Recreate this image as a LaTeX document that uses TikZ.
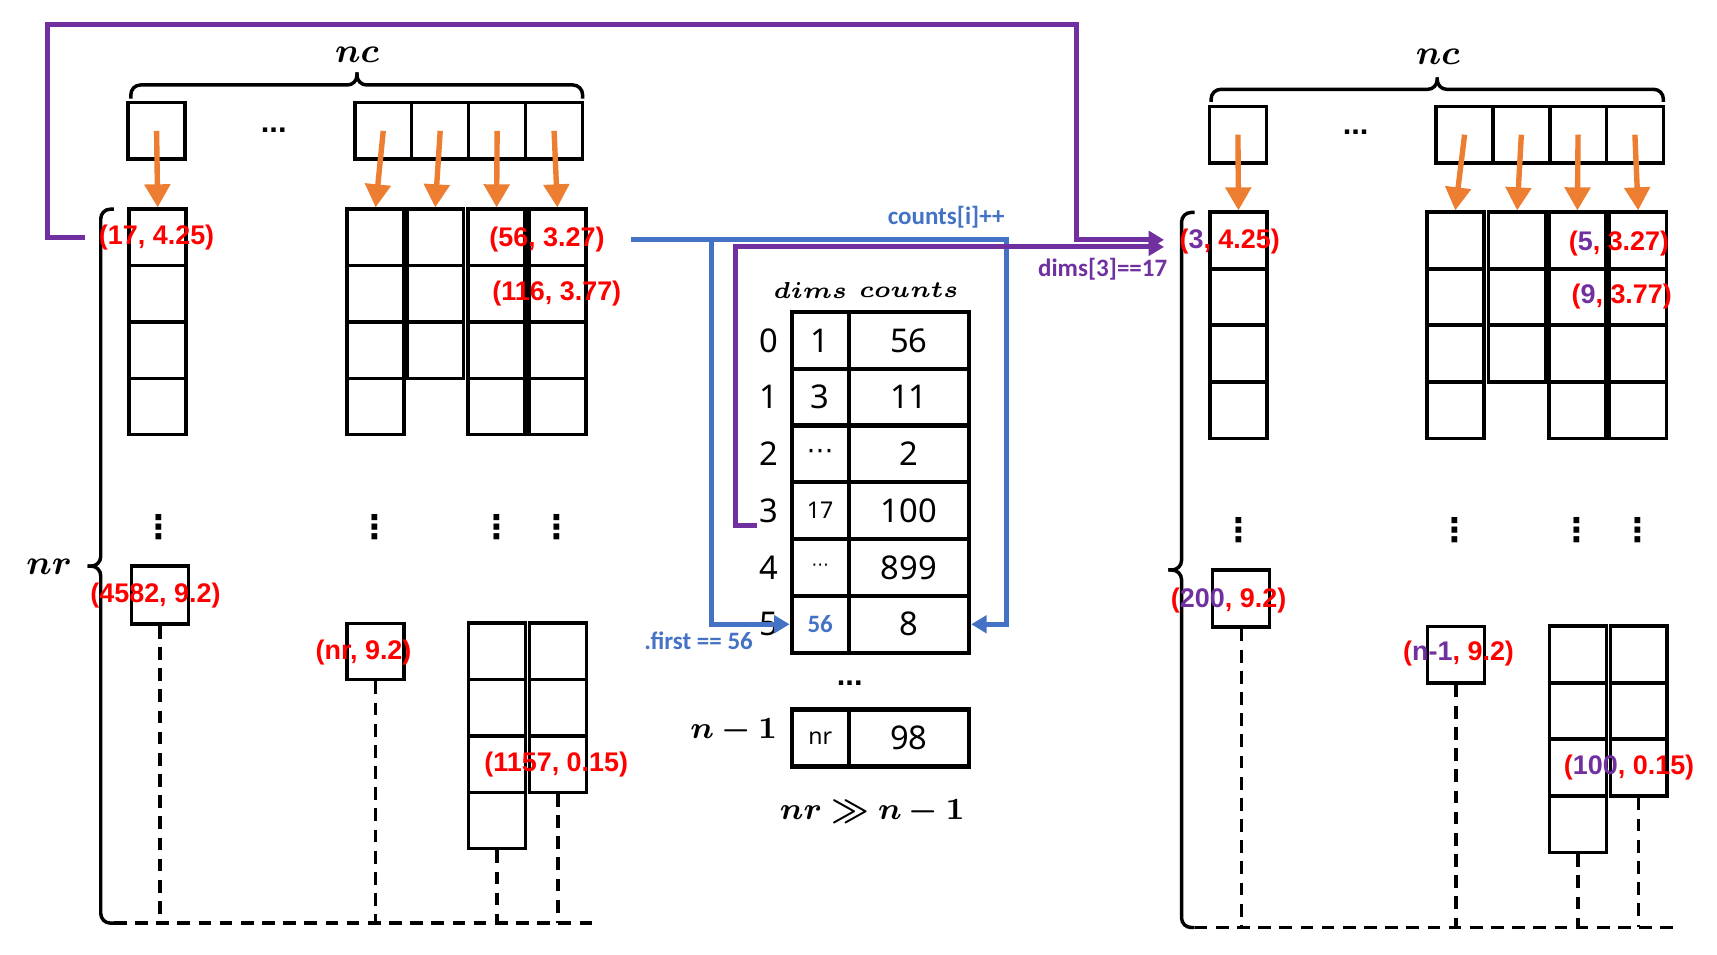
\documentclass[tikz,border=0pt]{standalone}
\usepackage{fontspec}
\usepackage{bm}
\setmainfont{Liberation Sans}
\newfontfamily\numfont{Noto Sans}
\newfontfamily\notefont{Carlito}
\newfontfamily\dotfont{DejaVu Sans}
\usetikzlibrary{arrows.meta}
\definecolor{labred}{HTML}{FF0000}
\definecolor{labpurple}{HTML}{7030A0}
\definecolor{labblue}{HTML}{4472C4}
\definecolor{arrorange}{HTML}{ED7D31}

\begin{document}
\begin{tikzpicture}[x=1cm,y=-1cm]
\tikzset{
  cellbox/.style={draw, line width=0.9pt, minimum width=0.52cm, minimum height=0.515cm, inner sep=0pt},
  tabcell/.style={draw, line width=1.1pt, minimum width=0.52cm, minimum height=0.518cm, inner sep=0pt, font=\numfont\fontsize{8.5}{10}\selectfont},
  cntcell/.style={tabcell, minimum width=1.10cm},
  idxlbl/.style={inner sep=0.5pt, font=\numfont\fontsize{8.5}{10}\selectfont},
  coordlbl/.style={inner sep=1pt, text=labred, font=\bfseries\fontsize{7}{8}\selectfont},
  notelbl/.style={inner sep=1pt, font=\notefont\bfseries\fontsize{6.5}{8}\selectfont},
  mathlbl/.style={inner sep=1pt, font=\fontsize{9}{11}\selectfont},
  dotlbl/.style={inner sep=0pt, font=\dotfont\bfseries\fontsize{8.5}{10}\selectfont},
  orangearrow/.style={draw=arrorange, line width=1.4pt, -{Triangle[length=6pt,width=6.5pt]}},
  purplepath/.style={draw=labpurple, line width=1.3pt, -{Triangle[length=4pt,width=4.5pt]}},
  bluepath/.style={draw=labblue, line width=1.3pt, -{Triangle[length=4pt,width=4.5pt]}},
  dashdrop/.style={line width=0.9pt, dash pattern=on 3.3pt off 2.2pt},
  bracketline/.style={line width=0.9pt, rounded corners=2.5pt}
}
\useasboundingbox (0,0) rectangle (15.68,8.72);

% left matrix
\node[cellbox] (ltop0) at (1.43,1.195) {};
\foreach \k/\x in {1/3.50,2/4.02,3/4.54,4/5.06}
  \node[cellbox] (ltop\k) at (\x,1.195) {};
\node[font=\bfseries\fontsize{8}{9}\selectfont] (ldots) at (2.50,1.19) {...};
\node[mathlbl] (lnc) at (3.26,0.50) {$\bm{nc}$};
\draw[bracketline] (1.195,0.90) |- (3.26,0.776) -- (3.26,0.66);
\draw[bracketline] (3.26,0.66) -- (3.26,0.776) -| (5.32,0.90);

\foreach \col/\x in {a/1.44,b/3.43,d/4.535,e/5.09}
  \foreach \i in {1,...,4}
    \node[cellbox] (l\col\i) at (\x,{1.6525+0.515*\i}) {};
\foreach \i in {1,2,3}
  \node[cellbox] (lc\i) at (3.975,{1.6525+0.515*\i}) {};

\draw[orangearrow] (ltop0.center) -- (la1.north);
\foreach \k/\col in {1/b,2/c,3/d,4/e}
  \draw[orangearrow] (ltop\k.center) -- (l\col1.north);

\foreach \col/\x in {a/1.45,b/3.425,d/4.54,e/5.086}
  \node[dotlbl] (ldot\col) at (\x,4.81) {⋮};

\node[cellbox, minimum height=0.53cm] (lx) at (1.46,5.435) {};
\node[cellbox] (ly) at (3.43,5.95) {};
\foreach \i in {1,...,4}
  \node[cellbox] (lf\i) at (4.54,{5.4325+0.515*\i}) {};
\foreach \i in {1,2,3}
  \node[cellbox] (lg\i) at (5.095,{5.4325+0.515*\i}) {};

\draw[bracketline] (1.04,1.91) -| (0.92,5.17) -- (0.80,5.17);
\draw[bracketline] (0.80,5.17) -- (0.92,5.17) |- (1.04,8.43);
\node[mathlbl] (lnr) at (0.45,5.18) {$\bm{nr}$};
\coordinate (lbase) at (1.04,8.43);
\coordinate (lend) at (5.43,8.43);
\draw[dashdrop] (lbase) -- (lend);
\foreach \n in {lx,ly,lf4,lg3}
  \draw[dashdrop] (\n.south) -- (\n.south |- lbase);

\node[coordlbl] (l17) at (1.43,2.165) {(17, 4.25)};
\node[coordlbl] (l56) at (4.995,2.19) {(56, 3.27)};
\node[coordlbl] (l116) at (5.085,2.68) {(116, 3.77)};
\node[coordlbl] (l4582) at (1.42,5.44) {(4582, 9.2)};
\node[coordlbl] (lnrlbl) at (3.32,5.955) {(nr, 9.2)};
\node[coordlbl] (l1157) at (5.08,6.985) {(1157, 0.15)};

% right matrix
\node[cellbox] (rtop0) at (11.305,1.23) {};
\foreach \k/\x in {1/13.375,2/13.893,3/14.411,4/14.93}
  \node[cellbox] (rtop\k) at (\x,1.23) {};
\node[font=\bfseries\fontsize{8}{9}\selectfont] (rdots) at (12.38,1.21) {...};
\node[mathlbl] (rnc) at (13.13,0.52) {$\bm{nc}$};
\draw[bracketline] (11.06,0.93) |- (13.125,0.816) -- (13.125,0.706);
\draw[bracketline] (13.125,0.706) -- (13.125,0.816) -| (15.19,0.93);

\foreach \col/\x in {a/11.31,b/13.29,d/14.405,e/14.96}
  \foreach \i in {1,...,4}
    \node[cellbox] (r\col\i) at (\x,{1.6775+0.5175*\i}) {};
\foreach \i in {1,2,3}
  \node[cellbox] (rc\i) at (13.855,{1.6775+0.5175*\i}) {};

\draw[orangearrow] (rtop0.center) -- (ra1.north);
\foreach \k/\col in {1/b,2/c,3/d,4/e}
  \draw[orangearrow] (rtop\k.center) -- (r\col1.north);

\foreach \col/\x in {a/11.31,b/13.29,d/14.40,e/14.96}
  \node[dotlbl] (rdot\col) at (\x,4.84) {⋮};

\node[cellbox, minimum height=0.52cm] (rx) at (11.335,5.465) {};
\node[cellbox] (ry) at (13.295,5.98) {};
\foreach \i in {1,...,4}
  \node[cellbox] (rf\i) at (14.41,{5.4582+0.5175*\i}) {};
\foreach \i in {1,2,3}
  \node[cellbox] (rg\i) at (14.965,{5.4582+0.5175*\i}) {};

\draw[bracketline] (10.91,1.94) -| (10.79,5.205) -- (10.67,5.205);
\draw[bracketline] (10.67,5.205) -- (10.79,5.205) |- (10.91,8.47);
\coordinate (rbase) at (10.91,8.47);
\coordinate (rend) at (15.29,8.47);
\draw[dashdrop] (rbase) -- (rend);
\foreach \n in {rx,ry,rf4,rg3}
  \draw[dashdrop] (\n.south) -- (\n.south |- rbase);

\node[coordlbl] (r3) at (11.23,2.21) {({\color{labpurple}3}, 4.25)};
\node[coordlbl] (r5) at (14.785,2.22) {({\color{labpurple}5}, 3.27)};
\node[coordlbl] (r9) at (14.81,2.71) {({\color{labpurple}9}, 3.77)};
\node[coordlbl] (r200) at (11.22,5.48) {({\color{labpurple}200}, 9.2)};
\node[coordlbl] (rn1) at (13.32,5.966) {({\color{labpurple}n-1}, 9.2)};
\node[coordlbl] (r100) at (14.877,7.01) {({\color{labpurple}100}, 0.15)};

% dims / counts table
\node[font=\fontsize{6}{7}\selectfont] (hdims) at (7.40,2.65) {$\bm{dims}$};
\node[font=\fontsize{6}{7}\selectfont] (hcounts) at (8.30,2.65) {$\bm{counts}$};

\node[idxlbl] (i0) at (7.02,3.109) {0};
\node[tabcell] (d0) at (7.49,3.109) {1};
\node[cntcell] (c0) at (8.30,3.109) {56};
\node[idxlbl] (i1) at (7.02,3.627) {1};
\node[tabcell] (d1) at (7.49,3.627) {3};
\node[cntcell] (c1) at (8.30,3.627) {11};
\node[idxlbl] (i2) at (7.02,4.146) {2};
\node[tabcell] (d2) at (7.49,4.146) {\dotfont\fontsize{7}{8}\selectfont ⋯};
\node[cntcell] (c2) at (8.30,4.146) {2};
\node[idxlbl] (i3) at (7.02,4.664) {3};
\node[tabcell] (d3) at (7.49,4.664) {\fontsize{6}{7}\selectfont 17};
\node[cntcell] (c3) at (8.30,4.664) {100};
\node[idxlbl] (i4) at (7.02,5.182) {4};
\node[tabcell] (d4) at (7.49,5.182) {\dotfont\fontsize{4.5}{5}\selectfont ⋯};
\node[cntcell] (c4) at (8.30,5.182) {899};
\node[idxlbl] (i5) at (7.02,5.701) {5};
\node[tabcell] (d5) at (7.49,5.701) {\notefont\bfseries\fontsize{6.5}{8}\selectfont\color{labblue}56};
\node[cntcell] (c5) at (8.30,5.701) {8};

\node[font=\bfseries\fontsize{8}{9}\selectfont] (tdots) at (7.76,6.24) {...};
\node[font=\fontsize{8}{10}\selectfont] (ilast) at (6.70,6.67) {$\bm{n-1}$};
\node[tabcell, minimum height=0.52cm] (dlast) at (7.49,6.74) {\fontsize{6}{7}\selectfont nr};
\node[cntcell, minimum height=0.52cm] (clast) at (8.30,6.74) {98};
\node[font=\fontsize{8}{10}\selectfont] (relation) at (7.965,7.41) {$\bm{nr \gg n-1}$};

% update arrows
\node[notelbl, text=labblue] (ncount) at (8.64,1.98) {counts[i]++};
\node[notelbl, text=labblue] (nfirst) at (6.38,5.855) {.first == 56};
\node[notelbl, text=labpurple] (ndims) at (10.07,2.46) {dims[3]==17};

\coordinate (bstart) at (5.76,2.185);
\coordinate (bturn) at (9.19,2.185);
\coordinate (bsplit) at (6.50,2.185);
\draw[bluepath] (bstart) -- (bturn) |- (c5.east);
\draw[bluepath] (bsplit) |- (d5.west);

\coordinate (pleft) at (0.43,0.225);
\coordinate (pright) at (9.83,0.225);
\coordinate (ptip1) at (10.63,2.19);
\coordinate (ptip2) at (10.63,2.255);
\draw[purplepath] ([xshift=-2.5pt]l17.west) -| (pleft) -- (pright) |- (ptip1);
\draw[purplepath] (i3.south west) -- ++(-0.19,0) |- (ptip2);
\end{tikzpicture}
\end{document}
